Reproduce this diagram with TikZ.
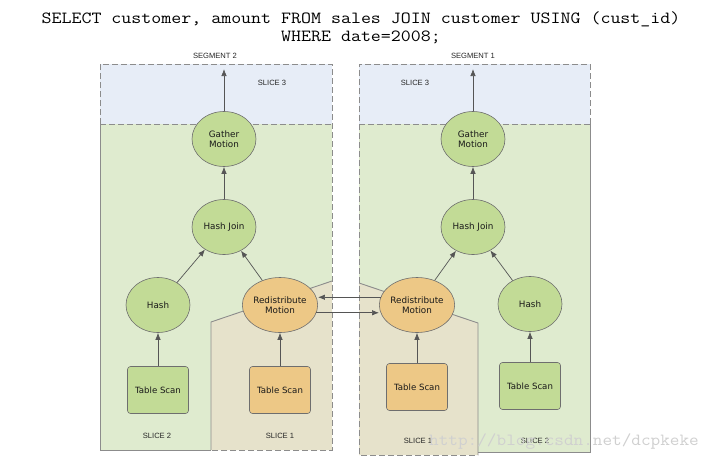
\documentclass[tikz,border=0pt]{standalone}
\usepackage{fontspec}
\usetikzlibrary{shapes.geometric,arrows.meta}
\newfontfamily\nodefnt{DejaVu Sans}
\newfontfamily\labfnt{Liberation Sans}
\newfontfamily\codefnt[FakeStretch=1.14]{Latin Modern Mono}
\newfontfamily\wmfnt[FakeStretch=1.1]{Latin Modern Mono}
\definecolor{sliceblue}{HTML}{E7EDF7}
\definecolor{slicegreen}{HTML}{DFEBCF}
\definecolor{slicebeige}{HTML}{E6E2CB}
\definecolor{nodegreen}{HTML}{C2DB96}
\definecolor{nodeorange}{HTML}{EDC886}
\definecolor{edgegray}{HTML}{8C8C8C}
\definecolor{nodeline}{HTML}{6E6E6E}
\definecolor{arrowgray}{HTML}{555555}
\definecolor{wmgray}{HTML}{D0D0D0}
\tikzset{
  regsolid/.style={draw=edgegray, line width=0.9pt},
  regdash/.style={draw=edgegray, line width=0.9pt, dash pattern=on 6pt off 3pt},
  opnode/.style={ellipse, draw=nodeline, line width=0.6pt, minimum width=64pt, minimum height=55pt, inner sep=0pt, align=center, font=\nodefnt\fontsize{8.8}{10.5}\selectfont, text=black!90},
  gnode/.style={opnode, fill=nodegreen},
  onode/.style={opnode, fill=nodeorange},
  scanbox/.style={rectangle, rounded corners=3pt, draw=nodeline, line width=0.6pt, minimum width=61pt, minimum height=47pt, inner sep=0pt, font=\nodefnt\fontsize{8.6}{10}\selectfont, text=black!90},
  gscan/.style={scanbox, fill=nodegreen},
  oscan/.style={scanbox, fill=nodeorange},
  lab/.style={font=\labfnt\fontsize{7.6}{9}\selectfont, text=black!85, inner sep=0pt},
  flow/.style={draw=arrowgray, line width=0.7pt, -{Latex[length=7pt,width=5.5pt]}},
}
\begin{document}
\begin{tikzpicture}[x=1pt,y=-1pt]
\useasboundingbox (0,0) rectangle (720,458);
\fill[white] (0,0) rectangle (720,458);

% ---------- left segment (SEGMENT 2) ----------
\fill[slicegreen] (100,124) rectangle (332,450);
\fill[sliceblue] (100,64) rectangle (332,124);
\fill[slicebeige] (211,322) -- (332,281) -- (332,450) -- (211,450) -- cycle;
\draw[regdash] (100,124) -- (100,64) -- (332,64) -- (332,450) -- (211,450);
\draw[regdash] (100,124) -- (332,124);
\draw[regsolid] (100,124) -- (100,450) -- (211,450);
\draw[regsolid] (211,450) -- (211,322) -- (332,281);

% ---------- right segment (SEGMENT 1) ----------
\fill[slicegreen] (359,124) rectangle (590,452);
\fill[sliceblue] (359,64) rectangle (590,124);
\fill[slicebeige] (359,283) -- (478,323) -- (478,455) -- (359,455) -- cycle;
\draw[regdash] (590,124) -- (590,64) -- (359,64) -- (359,455) -- (478,455);
\draw[regdash] (359,124) -- (590,124);
\draw[regsolid] (590,124) -- (590,452) -- (478,452);
\draw[regsolid] (359,283) -- (478,323) -- (478,455);

% ---------- title ----------
\node[anchor=base, inner sep=0pt, font=\codefnt\fontsize{17}{20}\selectfont] (title1) at (361,23) {SELECT customer, amount FROM sales JOIN customer USING (cust\_id)};
\node[anchor=base, inner sep=0pt, font=\codefnt\fontsize{17}{20}\selectfont] (title2) at (361,41) {WHERE date=2008;};

% ---------- labels ----------
\node[lab] (seg2) at (215,56) {SEGMENT 2};
\node[lab] (seg1) at (473,56) {SEGMENT 1};
\node[lab] (s3l) at (272,83) {SLICE 3};
\node[lab] (s3r) at (415,83) {SLICE 3};
\node[lab] (s2l) at (157,436) {SLICE 2};
\node[lab] (s1l) at (280,436) {SLICE 1};
\node[lab] (s1r) at (418,441) {SLICE 1};
\node[lab] (s2r) at (535,441) {SLICE 2};

% ---------- left nodes ----------
\node[gnode] (gmL) at (224,139) {Gather\\Motion};
\node[gnode] (hjL) at (224,227) {Hash Join};
\node[gnode] (hL) at (158,305) {Hash};
\node[onode] (rdL) at (280,305) {Redistribute\\Motion};
\node[gscan] (tsL2) at (158,390) {Table Scan};
\node[oscan] (tsL1) at (280,390) {Table Scan};
\coordinate (topL) at (224,69);

% ---------- right nodes ----------
\node[gnode] (gmR) at (473,139) {Gather\\Motion};
\node[gnode] (hjR) at (473,227) {Hash Join};
\node[onode] (rdR) at (417,305) {Redistribute\\Motion};
\node[gnode] (hR) at (530,304) {Hash};
\node[oscan] (tsR1) at (417,387) {Table Scan};
\node[gscan] (tsR2) at (530,386) {Table Scan};
\coordinate (topR) at (473,69);

% ---------- connectors ----------
\draw[flow] (gmL) -- (topL);
\draw[flow] (hjL) -- (gmL);
\draw[flow] (hL) -- (hjL);
\draw[flow] (rdL) -- (hjL);
\draw[flow] (tsL2) -- (hL);
\draw[flow] (tsL1) -- (rdL);

\draw[flow] (gmR) -- (topR);
\draw[flow] (hjR) -- (gmR);
\draw[flow] (rdR) -- (hjR);
\draw[flow] (hR) -- (hjR);
\draw[flow] (tsR1) -- (rdR);
\draw[flow] (tsR2) -- (hR);

\draw[flow] (rdR.168) -- (rdR.168 -| rdL.east);
\draw[flow] (rdL.-12) -- (rdL.-12 -| rdR.west);

% ---------- watermark ----------
\node[anchor=base west, inner sep=0pt, text=wmgray, font=\wmfnt\fontsize{17}{19}\selectfont] (wm) at (429,445) {http://blog.csdn.net/dcpkeke};
\end{tikzpicture}
\end{document}
